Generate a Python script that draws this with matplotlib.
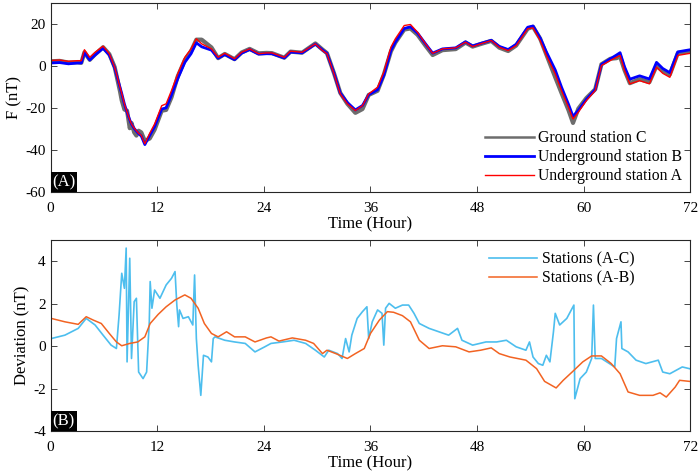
import matplotlib
matplotlib.use('Agg')
import matplotlib.pyplot as plt
from matplotlib.patches import Rectangle

plt.rcParams['font.family'] = ['Liberation Serif', 'DejaVu Serif']
plt.rcParams['axes.unicode_minus'] = False

# top panel: total field F (nT)
hours_f = [0.0, 1.0, 2.0, 3.0, 3.45, 3.8, 4.4, 5.0, 5.9, 6.6, 7.2, 7.8, 8.0, 8.3, 8.6,
           8.9, 9.1, 9.4, 9.65, 9.9, 10.2, 10.6, 11.15, 11.7, 12.5, 13.0, 13.6, 14.3,
           15.1, 15.8, 16.4, 17.0, 18.1, 18.85, 19.6, 20.7, 21.5, 22.4, 23.4, 24.3,
           24.9, 26.3, 27.0, 28.3, 29.8, 30.6, 31.1, 31.9, 32.6, 33.4, 34.3, 35.1,
           35.8, 36.8, 37.5, 38.3, 38.8, 39.8, 40.5, 41.3, 42.2, 43.0, 44.1, 45.6,
           46.7, 47.5, 48.4, 49.6, 50.5, 51.5, 52.4, 53.7, 54.3, 55.1, 55.8, 56.8,
           57.5, 58.3, 58.8, 59.4, 60.3, 61.3, 62.0, 63.0, 63.7, 64.1, 64.6, 65.2,
           66.3, 67.4, 68.2, 68.9, 69.7, 70.6, 71.7, 72.0]
station_a = [2.6, 2.8, 2.2, 2.5, 2.5, 7.7, 4.1, 6.5, 9.4, 5.8, -0.6, -10.0, -13.0, -18.0, -22.0,
             -25.5, -27.6, -29.5, -30.8, -32.0, -33.0, -37.0, -32.0, -27.6, -18.9, -18.0, -11.7, -3.8,
             4.1, 8.1, 12.9, 10.5, 8.1, 4.1, 6.0, 3.4, 6.5, 8.1, 5.8, 6.2,
             6.2, 4.1, 7.0, 6.5, 10.5, 7.3, 5.8, -3.8, -13.3, -18.0, -21.2, -18.9,
             -13.3, -10.1, -3.0, 8.9, 12.9, 19.2, 19.7, 16.0, 10.5, 6.0, 8.1, 8.6,
             11.3, 9.2, 10.5, 12.1, 8.9, 7.3, 9.7, 17.7, 18.1, 12.1, 5.0, -3.8,
             -11.7, -19.7, -25.2, -22.0, -16.5, -11.7, 0.2, 2.6, 4.1, 5.0, -2.2, -8.5,
             -7.0, -8.5, -0.6, -3.5, -5.4, 5.0, 5.8, 6.0]
station_b = [1.4, 1.6, 1.0, 1.4, 1.4, 6.4, 2.8, 5.2, 8.4, 5.2, -0.9, -10.1, -13.1, -18.1, -22.1,
             -25.6, -27.7, -29.7, -31.0, -32.2, -33.3, -37.4, -33.0, -28.9, -20.5, -19.9, -13.8, -6.1,
             1.7, 5.8, 11.0, 9.1, 7.5, 3.7, 5.4, 3.0, 6.1, 7.8, 5.6, 5.8,
             5.8, 3.8, 6.6, 6.2, 10.4, 7.6, 6.0, -3.5, -12.9, -17.4, -20.9, -18.8,
             -13.7, -11.3, -4.5, 7.3, 11.3, 17.8, 18.6, 15.6, 10.5, 6.1, 8.1, 8.6,
             11.5, 9.5, 10.7, 12.2, 9.3, 7.8, 10.3, 18.4, 19.0, 13.3, 6.7, -1.9,
             -10.0, -18.3, -24.0, -21.1, -15.9, -11.2, 0.7, 3.4, 5.2, 6.3, -0.4, -6.3,
             -4.7, -6.2, 1.7, -1.2, -3.2, 6.7, 7.5, 7.7]
station_c = [2.2, 2.4, 1.6, 1.7, 1.5, 6.5, 2.9, 5.5, 8.9, 5.6, -0.5, -12.0, -16.4, -20.7, -21.3,
             -29.6, -27.1, -31.6, -33.1, -30.8, -31.6, -35.6, -34.5, -30.3, -21.3, -20.9, -14.9, -5.0,
             2.8, 7.0, 12.5, 12.5, 8.8, 3.7, 5.7, 3.2, 6.4, 8.1, 6.0, 6.2,
             6.1, 3.9, 6.8, 6.3, 10.7, 7.8, 6.1, -3.5, -12.8, -18.0, -22.3, -20.5,
             -13.8, -11.8, -4.2, 6.9, 11.1, 17.3, 17.8, 14.8, 9.6, 5.2, 7.5, 8.0,
             11.1, 9.2, 10.4, 11.9, 8.7, 7.1, 9.7, 17.7, 18.6, 13.0, 5.4, -5.4,
             -12.8, -21.1, -27.1, -20.3, -15.3, -11.1, 0.8, 3.4, 3.7, 4.5, -2.0, -8.2,
             -6.3, -7.7, 0.0, -2.3, -4.1, 6.1, 6.8, 7.1]

# bottom panel: deviations (nT)
hours_ac = [0.07, 1.6, 3.1, 4.0, 5.0, 5.9, 6.8, 7.4, 7.7, 8.0, 8.3, 8.5, 8.6, 8.9, 9.1,
            9.4, 9.65, 9.9, 10.4, 10.8, 11.1, 11.2, 11.4, 11.7, 12.3, 13.0, 13.6, 14.0,
            14.2, 14.4, 14.5, 14.9, 15.5, 16.0, 16.2, 16.4, 16.6, 16.9, 17.2, 17.7, 18.1,
            18.3, 18.5, 19.6, 20.7, 21.9, 23.0, 24.1, 24.8, 26.1, 27.4, 28.7, 29.8, 30.8,
            31.3, 32.3, 32.8, 33.2, 33.6, 33.9, 34.5, 35.1, 35.6, 35.8, 36.2, 36.8, 37.3,
            37.5, 37.7, 38.1, 38.8, 39.6, 40.3, 40.9, 41.5, 42.6, 43.7, 44.8, 45.8, 46.3,
            47.5, 49.0, 50.2, 51.3, 52.4, 53.5, 53.9, 54.3, 54.9, 55.4, 55.8, 56.2, 56.6,
            56.8, 57.3, 58.1, 58.9, 59.0, 59.6, 60.3, 60.9, 61.1, 61.3, 62.0, 62.9, 63.5,
            63.7, 64.2, 64.3, 65.0, 65.9, 67.0, 68.4, 68.9, 69.7, 70.4, 71.1, 71.9]
dev_ac = [0.36, 0.52, 0.84, 1.31, 1.0, 0.52, 0.05, -0.11, 1.47, 3.44, 2.73, 4.63, -0.74, 4.15, -0.58,
          2.1, 2.26, -1.22, -1.53, -1.22, 1.15, 3.05, 1.79, 2.65, 2.26, 2.89, 3.2, 3.52,
          1.94, 0.92, 1.71, 1.31, 1.39, 1.0, 3.36, 0.36, -0.9, -2.32, -0.43, -0.51, -0.74,
          0.36, 0.44, 0.28, 0.2, 0.13, -0.27, -0.03, 0.13, 0.2, 0.28, 0.13, -0.19, -0.51,
          -0.19, -0.35, -0.58, 0.36, -0.27, 0.52, 1.31, 1.63, 1.86, 0.36, 1.15, 1.71, 1.55,
          0.05, 1.79, 2.02, 1.79, 1.94, 1.94, 1.55, 1.07, 0.84, 0.68, 0.52, 0.84, 0.28,
          0.05, 0.2, 0.2, 0.28, -0.03, -0.19, 0.2, -0.51, -0.82, -0.9, -0.43, -0.74, 0.68,
          1.55, 1.0, 1.31, 1.94, -2.48, -1.53, -1.22, -0.58, 1.94, -0.58, -0.58, -0.82, -0.98,
          0.36, 1.15, -0.11, -0.27, -0.66, -0.82, -0.66, -1.22, -1.3, -1.14, -0.98, -1.06]

hours_ab = [0.07, 1.6, 3.1, 4.0, 4.8, 5.7, 6.6, 7.4, 8.0, 8.9, 9.8, 10.6, 11.2, 12.1, 13.0,
            14.0, 15.1, 15.8, 16.6, 17.3, 18.1, 18.85, 19.8, 20.7, 21.9, 23.0, 24.3, 24.8,
            25.7, 27.2, 28.7, 29.6, 30.6, 31.1, 32.1, 33.4, 34.3, 35.3, 36.0, 37.0, 37.9,
            38.6, 39.6, 40.5, 41.5, 42.6, 44.1, 45.6, 47.1, 48.4, 49.6, 50.5, 51.7, 53.5,
            54.7, 55.6, 56.9, 57.7, 58.8, 59.9, 60.9, 62.0, 63.1, 64.1, 65.0, 66.3, 67.8,
            68.6, 69.3, 70.3, 70.8, 71.9]
dev_ab = [1.31, 1.15, 1.03, 1.39, 1.23, 1.07, 0.6, 0.2, 0.02, 0.13, 0.2, 0.44, 1.07, 1.5, 1.86,
          2.18, 2.42, 2.26, 1.79, 1.07, 0.6, 0.44, 0.68, 0.44, 0.44, 0.2, 0.39, 0.44,
          0.24, 0.39, 0.28, 0.13, -0.35, -0.19, -0.35, -0.58, -0.35, -0.11, 0.6, 1.23, 1.63,
          1.6, 1.44, 1.15, 0.28, -0.11, 0.02, -0.03, -0.27, -0.19, -0.08, -0.35, -0.51, -0.66,
          -1.06, -1.66, -1.97, -1.61, -1.18, -0.74, -0.46, -0.46, -0.82, -1.3, -2.16, -2.32, -2.32,
          -2.2, -2.4, -1.93, -1.61, -1.66]

x_ticks = [0, 12, 24, 36, 48, 60, 72]

fig = plt.figure(figsize=(6.99, 4.71), dpi=100)
ax1 = fig.add_axes([0.0725, 0.592, 0.915, 0.402])
ax2 = fig.add_axes([0.0725, 0.085, 0.915, 0.405])

ax1.plot(hours_f, station_c, color='#6d6d6d', lw=3.0, label='Ground station C')
ax1.plot(hours_f, station_b, color='#0000ff', lw=2.0, label='Underground station B')
ax1.plot(hours_f, station_a, color='#ff0000', lw=1.0, label='Underground station A')
ax1.set_ylim(-60, 30)
ax1.set_yticks([-60, -40, -20, 0, 20])
ax1.set_ylabel('F (nT)', fontsize=12, labelpad=2)
leg1 = ax1.legend(loc='lower right', frameon=False, fontsize=11.3, handlelength=3.1,
                  borderaxespad=0.1, labelspacing=0.2, handletextpad=0.3)
leg1.get_lines()[0].set_linewidth(1.8)

ax2.plot(hours_ac, dev_ac, color='#4dbeee', lw=1.2, label='Stations (A-C)')
ax2.plot(hours_ab, dev_ab, color='#f26322', lw=1.1, label='Stations (A-B)')
ax2.set_ylim(-4, 5)
ax2.set_yticks([-4, -2, 0, 2, 4])
ax2.set_ylabel('Deviation (nT)', fontsize=12, labelpad=2)
ax2.legend(loc='upper right', frameon=False, fontsize=11.3, handlelength=3.1,
           borderaxespad=0.3, labelspacing=0.2, handletextpad=0.3,
           bbox_to_anchor=(0.93, 1.0))

for ax, tag in [(ax1, '(A)'), (ax2, '(B)')]:
    ax.set_xlim(0, 72)
    ax.set_xticks(x_ticks)
    ax.set_xlabel('Time (Hour)', fontsize=12, labelpad=1)
    ax.tick_params(direction='in', top=True, right=True, labelsize=11,
                   length=4, width=0.6, color='#262626')
    ax.tick_params(axis='x', pad=7)
    for s in ax.spines.values():
        s.set_color('#262626')
        s.set_linewidth(0.8)
    ax.add_patch(Rectangle((0, 0), 0.041, 0.105, transform=ax.transAxes,
                           facecolor='black', edgecolor='none', zorder=5))
    ax.text(0.0205, 0.05, tag, transform=ax.transAxes, color='white',
            fontsize=12, ha='center', va='center', zorder=6)

fig.savefig('out.png', dpi=100)
